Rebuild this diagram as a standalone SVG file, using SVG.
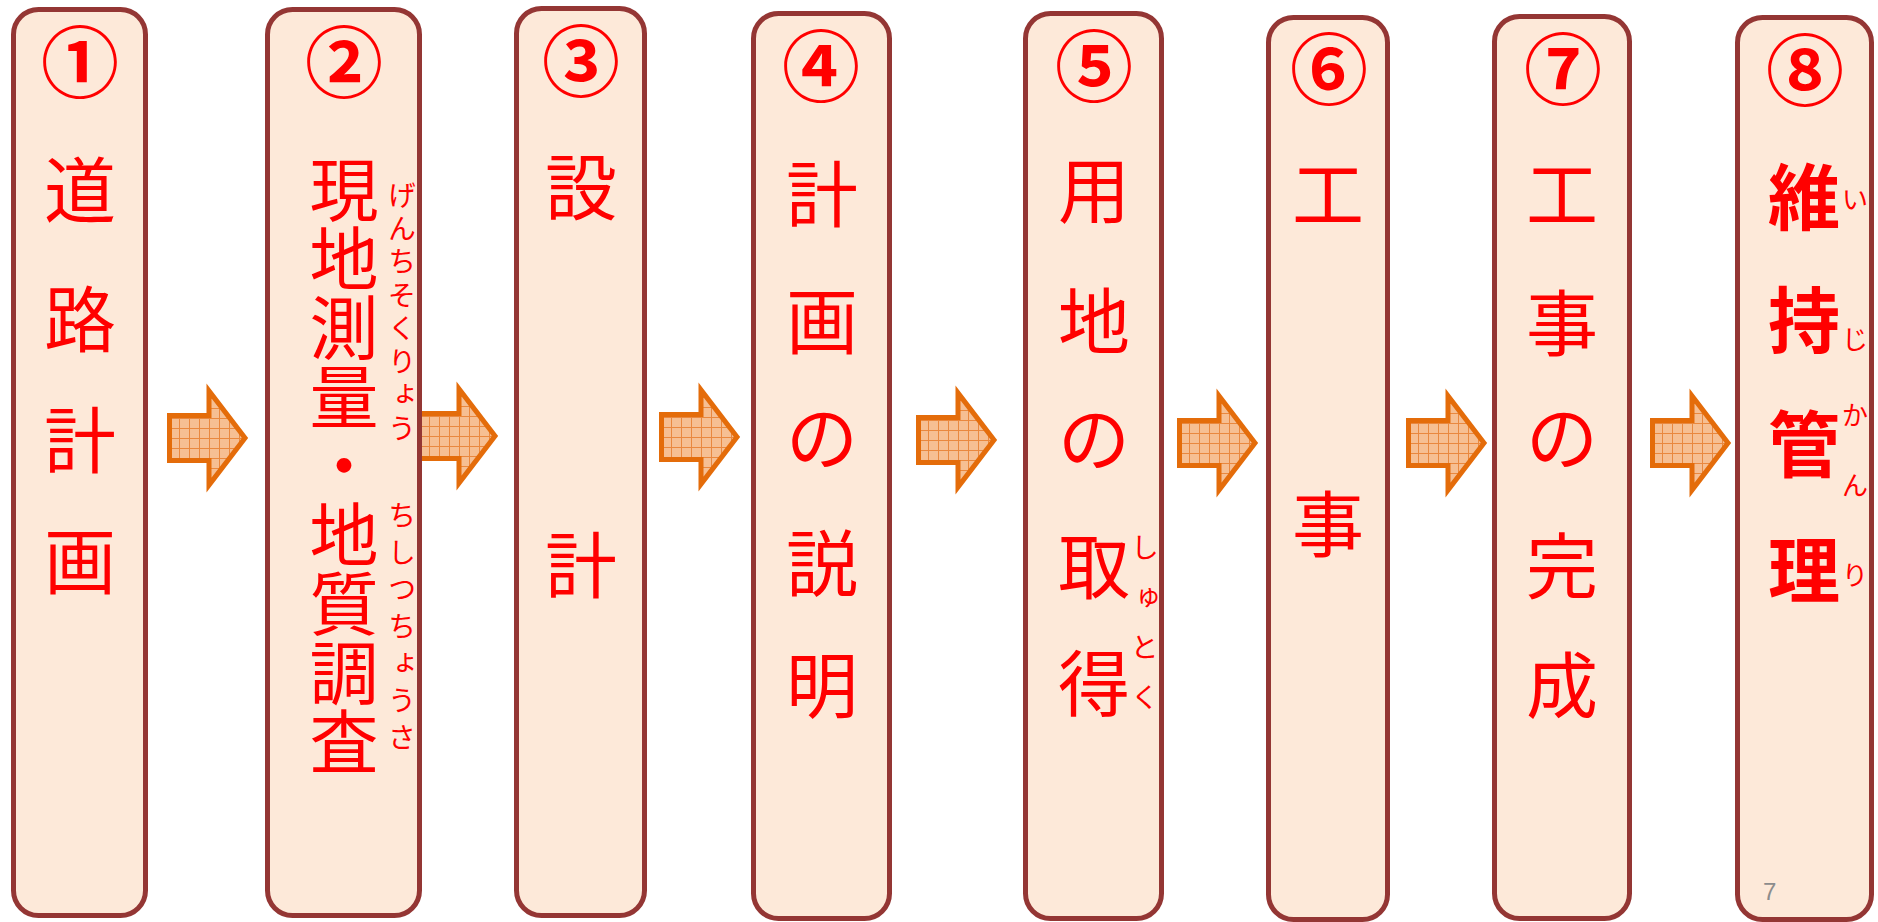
<svg xmlns="http://www.w3.org/2000/svg" width="1878" height="922" viewBox="0 0 1878 922">
<defs>
<style>
.box{fill:#FDE9D9;stroke:#943634;stroke-width:5}
.t{font-family:"Noto Sans CJK JP","Noto Sans CJK SC",sans-serif;fill:#FF0000;text-anchor:middle}
.m{font-size:72px}
.v{font-family:"Noto Sans CJK JP","Noto Sans CJK SC",sans-serif;fill:#FF0000;font-size:69px;writing-mode:vertical-rl}
.fv{font-family:"Noto Sans CJK JP","Noto Sans CJK SC",sans-serif;fill:#FF0000;font-size:28px;writing-mode:vertical-rl}
.b{font-size:72px;font-weight:bold}
.f8{font-size:26px}
.n{font-size:78px;font-weight:bold}
.arr{fill:url(#grid);stroke:#E46C0A;stroke-width:5;stroke-linejoin:miter}
.pg{font-family:"Liberation Sans",Arial,sans-serif;font-size:24px;fill:#8C8C8C}
</style>
<pattern id="grid" width="10" height="10" patternUnits="userSpaceOnUse">
<rect width="10" height="10" fill="#F6BF93"/>
<path d="M0 0.5H10M0.5 0V10" stroke="#E9883F" stroke-width="1"/>
</pattern>
<path id="arrow" d="M-79.5,-22.5 H-40 V-47 L-4,0 L-40,47 V22.5 H-79.5 Z"/>
</defs>
<rect width="1878" height="922" fill="#FFFFFF"/>
<g id="connectors">
<use href="#arrow" class="arr" transform="translate(249,438)"/>
<use href="#arrow" class="arr" transform="translate(499,436)"/>
<use href="#arrow" class="arr" transform="translate(741,437)"/>
<use href="#arrow" class="arr" transform="translate(998,440)"/>
<use href="#arrow" class="arr" transform="translate(1259,443)"/>
<use href="#arrow" class="arr" transform="translate(1488,443)"/>
<use href="#arrow" class="arr" transform="translate(1732,443)"/>
</g>
<g id="node1">
<rect class="box" x="13.5" y="9.5" width="132" height="906" rx="25"/>
<text class="t n" x="80" y="92">①</text>
<text class="t m" x="80" y="217">道</text>
<text class="t m" x="80" y="346">路</text>
<text class="t m" x="80" y="467">計</text>
<text class="t m" x="80" y="588">画</text>
</g>
<g id="node2">
<rect class="box" x="267.5" y="9.5" width="152" height="906" rx="25"/>
<text class="t n" x="344" y="92">②</text>
<text class="v" x="344" y="155">現地測量・地質調査</text>
<text class="fv" x="402" y="181" letter-spacing="5.3">げんちそくりょう</text>
<text class="fv" x="402" y="501" letter-spacing="9">ちしつちょうさ</text>
</g>
<g id="node3">
<rect class="box" x="516.5" y="8.5" width="128" height="907" rx="25"/>
<text class="t n" x="581" y="91">③</text>
<text class="t m" x="581" y="214">設</text>
<text class="t m" x="581" y="592">計</text>
</g>
<g id="node4">
<rect class="box" x="753.5" y="13.5" width="136" height="905" rx="25"/>
<text class="t n" x="821" y="96">④</text>
<text class="t m" x="822" y="221">計</text>
<text class="t m" x="822" y="348">画</text>
<text class="t m" x="822" y="464">の</text>
<text class="t m" x="822" y="590">説</text>
<text class="t m" x="822" y="712">明</text>
</g>
<g id="node5">
<rect class="box" x="1025.5" y="13.5" width="136" height="905" rx="25"/>
<text class="t n" x="1094" y="96">⑤</text>
<text class="t m" x="1094" y="217">用</text>
<text class="t m" x="1094" y="348">地</text>
<text class="t m" x="1094" y="465">の</text>
<text class="t m" x="1094" y="593">取</text>
<text class="t m" x="1094" y="710">得</text>
<text class="fv" x="1145" y="533" letter-spacing="22">しゅとく</text>
</g>
<g id="node6">
<rect class="box" x="1268.5" y="17.5" width="119" height="902" rx="25"/>
<text class="t n" x="1329" y="99">⑥</text>
<text class="t m" x="1328" y="221">工</text>
<text class="t m" x="1328" y="551">事</text>
</g>
<g id="node7">
<rect class="box" x="1494.5" y="16.5" width="135" height="902" rx="25"/>
<text class="t n" x="1563" y="99">⑦</text>
<text class="t m" x="1562" y="221">工</text>
<text class="t m" x="1562" y="350">事</text>
<text class="t m" x="1562" y="464">の</text>
<text class="t m" x="1562" y="593">完</text>
<text class="t m" x="1562" y="712">成</text>
</g>
<g id="node8">
<rect class="box" x="1737.5" y="17.5" width="134" height="902" rx="25"/>
<text class="t n" x="1805" y="100">⑧</text>
<text class="t b" x="1804" y="224">維</text>
<text class="t b" x="1804" y="347">持</text>
<text class="t b" x="1804" y="471">管</text>
<text class="t b" x="1804" y="597">理</text>
<text class="t f8" x="1855" y="209">い</text>
<text class="t f8" x="1855" y="349">じ</text>
<text class="t f8" x="1855" y="425">か</text>
<text class="t f8" x="1855" y="495">ん</text>
<text class="t f8" x="1855" y="585">り</text>
<text class="pg" x="1763" y="900">7</text>
</g>
</svg>
